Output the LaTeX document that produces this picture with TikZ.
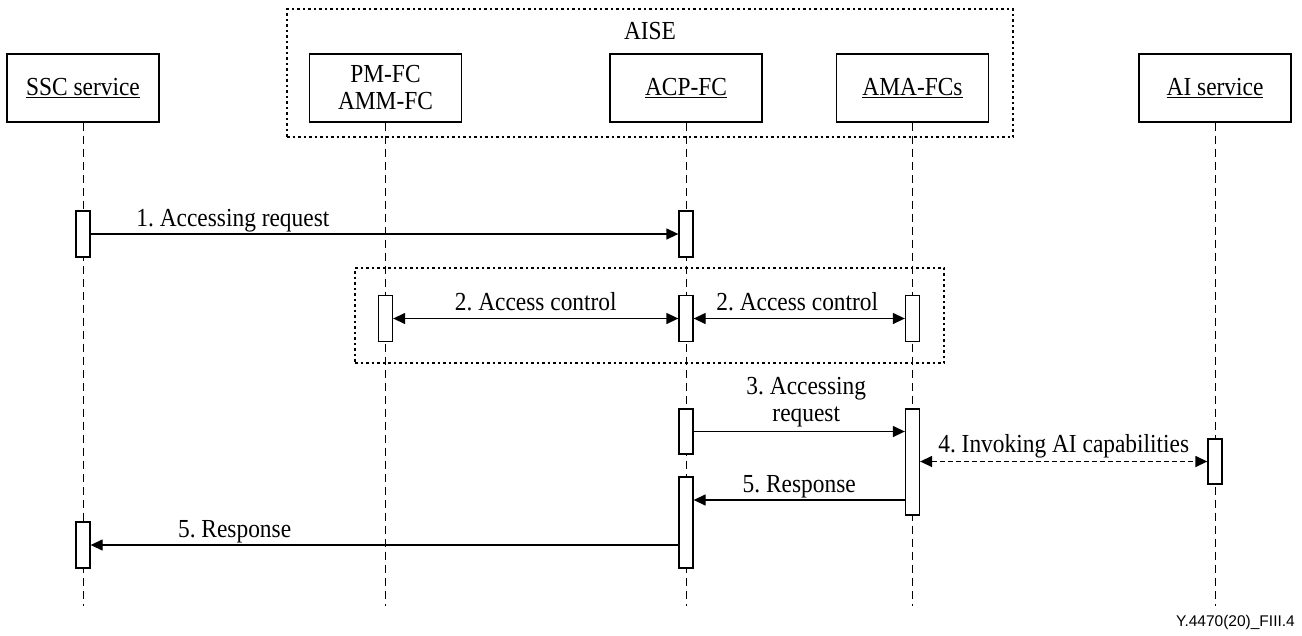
\documentclass[tikz,border=0pt]{standalone}
\usepackage{fontspec}
\setmainfont[FakeStretch=0.9]{Liberation Serif}
\newfontfamily\figsans{Liberation Sans}
\usetikzlibrary{arrows.meta}
\frenchspacing
\begin{document}
\begin{tikzpicture}[x=1pt,y=-1pt,
  font=\fontsize{26}{27}\selectfont,
  actor/.style={draw, line width=1.3pt, minimum width=152pt, minimum height=68pt, align=center, inner sep=0pt},
  life/.style={line width=1pt, dash pattern=on 8pt off 5pt},
  actbar/.style={draw, fill=white, line width=1.3pt, minimum width=14pt, inner sep=0pt},
  msg/.style={line width=1.3pt, -{Triangle[length=12pt,width=11pt]}},
  bimsg/.style={line width=1.3pt, {Triangle[length=12pt,width=11pt]}-{Triangle[length=12pt,width=11pt]}},
  grp/.style={draw, line width=1.3pt, dash pattern=on 2.5pt off 3pt, inner sep=0pt},
  lbl/.style={anchor=base, inner sep=0pt, yshift=8pt},
  lbltwo/.style={anchor=south, inner sep=0pt, align=center, yshift=4pt}]
\useasboundingbox (0,0) rectangle (1302,635);

% grouping frames
\node[grp, minimum width=726pt, minimum height=128pt] (aise) at (650,73) {};
\node[anchor=base, inner sep=0pt] (aisetxt) at (650,39) {AISE};
\node[grp, minimum width=589pt, minimum height=95pt] (acgrp) at (649.5,315.5) {};

% participants
\node[actor] (ssc) at (83,88) {\underline{SSC service}};
\node[actor] (pm)  at (385.5,88) {PM-FC\\AMM-FC};
\node[actor] (acp) at (686,88) {\underline{ACP-FC}};
\node[actor] (ama) at (912.5,88) {\underline{AMA-FCs}};
\node[actor] (ai)  at (1215,88) {\underline{AI service}};

% lifelines
\coordinate (sscend) at (83,606);
\coordinate (pmend)  at (385.5,606);
\coordinate (acpend) at (686,606);
\coordinate (amaend) at (912.5,606);
\coordinate (aiend)  at (1215,606);
\draw[life] (ssc.south) -- (sscend);
\draw[life] (pm.south)  -- (pmend);
\draw[life] (acp.south) -- (acpend);
\draw[life] (ama.south) -- (amaend);
\draw[life] (ai.south)  -- (aiend);

% activation bars
\node[actbar, minimum height=46pt] (s1)  at (83,234) {};
\node[actbar, minimum height=46pt] (p1)  at (686,234) {};
\node[actbar, minimum height=46pt] (pm2) at (385.5,318.5) {};
\node[actbar, minimum height=46pt] (p2)  at (686,318.5) {};
\node[actbar, minimum height=46pt] (m2)  at (912.5,318.5) {};
\node[actbar, minimum height=45pt] (p3)  at (686,431.5) {};
\node[actbar, minimum height=106pt] (m3) at (912.5,462) {};
\node[actbar, minimum height=45pt] (ai4) at (1215,461.5) {};
\node[actbar, minimum height=91pt] (p5)  at (686,522.5) {};
\node[actbar, minimum height=46pt] (s5)  at (83,545) {};
\coordinate (resp) at (0,500);

% messages
\draw[msg] (s1.east) -- (p1.west)
  node[lbl, pos=0.242] {1. Accessing request};
\draw[bimsg] (pm2.east) -- (p2.west)
  node[lbl, midway] {2. Access control};
\draw[bimsg] (p2.east) -- (m2.west)
  node[lbl, midway, xshift=-2pt] {2. Access control};
\draw[msg] (p3.east) -- (p3.east -| m3.west)
  node[lbltwo, midway, xshift=7pt] {3. Accessing\\request};
\draw[bimsg, line width=1.4pt, dash pattern=on 5pt off 3pt] (ai4.west -| m3.east) -- (ai4.west)
  node[lbl, midway, yshift=1pt] {4. Invoking AI capabilities};
\draw[msg] (m3.west |- resp) -- (p5.east |- resp)
  node[lbl, midway] {5. Response};
\draw[msg] (s5.east -| p5.west) -- (s5.east)
  node[lbl, pos=0.755] {5. Response};

% figure reference
\node[anchor=base east, inner sep=0pt, font=\figsans\fontsize{15.5}{18}\selectfont] (figref) at (1295,626) {Y.4470(20)\_FIII.4};
\end{tikzpicture}
\end{document}
